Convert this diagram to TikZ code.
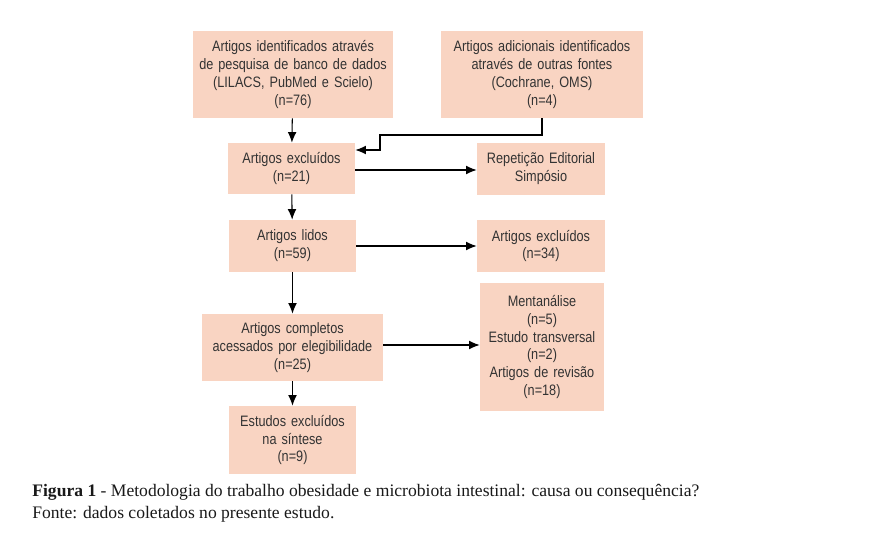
\documentclass[tikz,border=0pt]{standalone}
\usepackage{fontspec}
\setmainfont{Liberation Serif}
\setsansfont[FakeStretch=0.84, WordSpace=0.75]{Liberation Sans}
\usetikzlibrary{arrows.meta,positioning,calc}
\definecolor{CaixaSalmao}{HTML}{F9D4C2}
\definecolor{TextoCinza}{HTML}{333333}

\begin{document}
\begin{tikzpicture}[
    x=0.02cm, y=-0.02cm,
    font=\sffamily\fontsize{8.6}{10.2}\selectfont,
    caixa/.style={fill=CaixaSalmao, draw=none, align=center, text=TextoCinza, inner sep=0pt},
    seta/.style={-{Latex[length=6pt,width=5pt]}, line width=0.6pt, color=black}
]

  % Fundo (fixa as margens)
  \path[use as bounding box, fill=white] (0,0) rectangle (896,539);

  % =========================================================================
  % IDENTIFICAÇÃO
  % =========================================================================
  \node[caixa, text width=4.0cm, minimum height=1.74cm] (ident) at (293,74.5) {
    Artigos identificados através\\
    de pesquisa de banco de dados\\
    (LILACS, PubMed e Scielo)\\
    (n=76)
  };

  \node[caixa, text width=4.04cm, minimum height=1.74cm] (outras) at (542,74.5) {
    Artigos adicionais identificados\\
    através de outras fontes\\
    (Cochrane, OMS)\\
    (n=4)
  };

  % =========================================================================
  % TRIAGEM
  % =========================================================================
  \node[caixa, text width=2.54cm, minimum height=1.02cm] (excl1) at (291.5,168.5) {
    Artigos excluídos\\ (n=21)
  };
  \node[caixa, text width=2.56cm, minimum height=1.04cm] (repet) at (541,169) {
    Repetição Editorial\\ Simpósio
  };

  \node[caixa, text width=2.54cm, minimum height=1.04cm] (lidos) at (292.5,246) {
    Artigos lidos\\ (n=59)
  };
  \node[caixa, text width=2.56cm, minimum height=1.04cm] (excl34) at (541,246) {
    Artigos excluídos\\ (n=34)
  };

  % =========================================================================
  % ELEGIBILIDADE E SÍNTESE
  % =========================================================================
  \node[caixa, text width=3.62cm, minimum height=1.34cm] (complet) at (292.5,347.5) {
    Artigos completos\\
    acessados por elegibilidade\\
    (n=25)
  };
  \node[caixa, text width=2.48cm, minimum height=2.56cm] (tipos) at (542,347) {
    Mentanálise\\ (n=5)\\
    Estudo transversal\\ (n=2)\\
    Artigos de revisão\\ (n=18)
  };

  \node[caixa, text width=2.54cm, minimum height=1.36cm] (sintese) at (292.5,440) {
    Estudos excluídos\\
    na síntese\\
    (n=9)
  };

  % Conectores
  \draw[seta] (ident) -- (excl1);
  \coordinate (canto) at (380,150);
  \draw[seta] (outras.south) |- (380,135) -- (canto) -- (canto -| excl1.east);
  \draw[seta] (excl1.east |- 0,170) -- (repet.west |- 0,170);
  \draw[seta] (excl1) -- (lidos);
  \draw[seta] (lidos) -- (excl34);
  \draw[seta] (lidos) -- (complet);
  \draw[seta] (complet.east |- 0,345) -- (tipos.west |- 0,345);
  \draw[seta] (complet) -- (sintese);

  % Legenda
  \node[anchor=north west, font=\rmfamily\fontsize{10}{12.5}\selectfont, text=black!90, align=left, inner sep=0pt] (legenda) at (32,484) {
    \textbf{Figura 1} - Metodologia do trabalho obesidade e microbiota intestinal: causa ou consequência?\\
    Fonte: dados coletados no presente estudo.
  };

\end{tikzpicture}
\end{document}
